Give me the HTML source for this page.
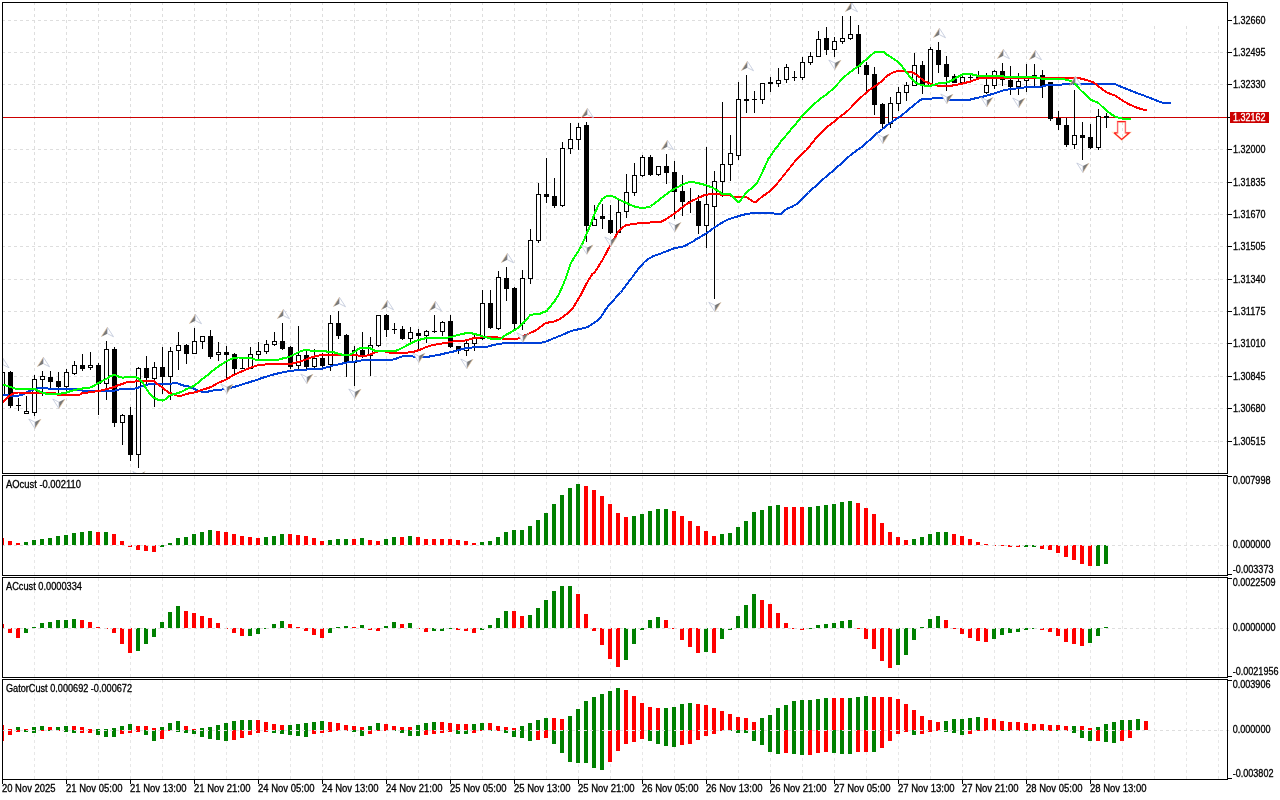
<!DOCTYPE html>
<html><head><meta charset="utf-8"><title>chart</title>
<style>html,body{margin:0;padding:0;background:#fff;width:1280px;height:800px;overflow:hidden}</style></head>
<body>
<svg width="1280" height="800" viewBox="0 0 1280 800" shape-rendering="crispEdges" style="position:absolute;left:0;top:0">
<rect x="0" y="0" width="1280" height="800" fill="#fff"/>
<defs><clipPath id="mc"><rect x="3" y="3" width="1224" height="470"/></clipPath></defs>
<path d="M34.5 2V474M66.5 2V474M98.5 2V474M130.5 2V474M162.5 2V474M194.5 2V474M226.5 2V474M258.5 2V474M290.5 2V474M322.5 2V474M354.5 2V474M386.5 2V474M418.5 2V474M450.5 2V474M482.5 2V474M514.5 2V474M546.5 2V474M578.5 2V474M610.5 2V474M642.5 2V474M674.5 2V474M706.5 2V474M738.5 2V474M770.5 2V474M802.5 2V474M834.5 2V474M866.5 2V474M898.5 2V474M930.5 2V474M962.5 2V474M994.5 2V474M1026.5 2V474M1058.5 2V474M1090.5 2V474M1122.5 2V474M1154.5 2V474M1186.5 2V474M1218.5 2V474" stroke="#dedede" stroke-width="1" stroke-dasharray="3 3" fill="none"/>
<path d="M34.5 476V779M66.5 476V779M98.5 476V779M130.5 476V779M162.5 476V779M194.5 476V779M226.5 476V779M258.5 476V779M290.5 476V779M322.5 476V779M354.5 476V779M386.5 476V779M418.5 476V779M450.5 476V779M482.5 476V779M514.5 476V779M546.5 476V779M578.5 476V779M610.5 476V779M642.5 476V779M674.5 476V779M706.5 476V779M738.5 476V779M770.5 476V779M802.5 476V779M834.5 476V779M866.5 476V779M898.5 476V779M930.5 476V779M962.5 476V779M994.5 476V779M1026.5 476V779M1058.5 476V779M1090.5 476V779M1122.5 476V779M1154.5 476V779M1186.5 476V779M1218.5 476V779" stroke="#e7e7e7" stroke-width="1" stroke-dasharray="3 3" fill="none"/>
<rect x="0" y="474" width="1280" height="1" fill="#fff"/><rect x="0" y="576" width="1280" height="1" fill="#fff"/><rect x="0" y="678" width="1280" height="1" fill="#fff"/>
<path d="M3 20.5H1227M3 52.5H1227M3 84.5H1227M3 117.5H1227M3 149.5H1227M3 182.5H1227M3 214.5H1227M3 246.5H1227M3 279.5H1227M3 311.5H1227M3 343.5H1227M3 376.5H1227M3 408.5H1227M3 441.5H1227" stroke="#dedede" stroke-width="1" stroke-dasharray="3 3" stroke-dashoffset="1" fill="none"/>
<rect x="1127" y="3" width="100" height="23" fill="#fff"/>
<rect x="3" y="117" width="1224" height="1" fill="#cc0000"/>
<path d="M10.5 371V408M18.5 398V411M26.5 396V414M34.5 375V416M42.5 371V396M50.5 371V389M58.5 372V394M66.5 369V392M74.5 361V375M82.5 354V371M90.5 352V370M98.5 363V415M106.5 341V400M114.5 347V427M122.5 414V445M130.5 407V461M138.5 367V468M146.5 356V384M154.5 362V407M162.5 347V394M170.5 347V400M178.5 332V370M186.5 344V364M194.5 328V354M202.5 336V349M210.5 330V359M218.5 342V361M226.5 346V379M234.5 353V374M242.5 358V369M250.5 347V369M258.5 342V359M266.5 340V354M274.5 332V346M282.5 323V350M290.5 346V369M298.5 326V369M306.5 351V369M314.5 349V369M322.5 353V368M330.5 315V371M338.5 311V339M346.5 334V377M354.5 346V386M362.5 332V358M370.5 337V376M378.5 315V347M386.5 314V337M394.5 323V334M402.5 326V340M410.5 327V342M418.5 329V350M426.5 330V343M434.5 315V333M442.5 321V336M450.5 315V348M458.5 346V354M466.5 339V356M474.5 335V351M482.5 290V340M490.5 290V329M498.5 271V330M506.5 267V301M514.5 287V329M522.5 270V330M530.5 229V284M538.5 183V243M546.5 158V203M554.5 178V208M562.5 142V207M570.5 123V154M578.5 123V150M586.5 122V242M594.5 205V226M602.5 204V229M610.5 205V234M618.5 200V233M626.5 174V218M634.5 163V196M642.5 155V177M650.5 155V176M658.5 166V176M666.5 154V184M674.5 161V219M682.5 175V216M690.5 188V213M698.5 195V234M706.5 147V248M714.5 171V299M722.5 102V197M730.5 135V181M738.5 82V160M746.5 75V113M754.5 91V113M762.5 83V104M770.5 77V92M778.5 68V87M786.5 64V83M794.5 71V81M802.5 57V80M810.5 52V65M818.5 31V57M826.5 27V55M834.5 37V57M842.5 16V44M850.5 16V40M858.5 25V74M866.5 62V92M874.5 67V115M882.5 103V128M890.5 97V128M898.5 87V111M906.5 82V101M914.5 53V86M922.5 61V94M930.5 47V86M938.5 42V73M946.5 56V91M954.5 74V83M962.5 76V83M970.5 75V81M978.5 71V79M986.5 73V94M994.5 70V89M1002.5 63V86M1010.5 66V95M1018.5 73V95M1026.5 64V92M1034.5 64V86M1042.5 70V98M1050.5 82V121M1058.5 111V130M1066.5 118V147M1074.5 90V149M1082.5 122V160M1090.5 124V149M1098.5 109V150M1106.5 113V128" stroke="#000" stroke-width="1" fill="none"/>
<path d="M8 372h5v34h-5zM16 405h5v1h-5zM48 377h5v5h-5zM56 381h5v6h-5zM80 365h5v4h-5zM96 365h5v19h-5zM112 349h5v74h-5zM128 415h5v40h-5zM144 368h5v10h-5zM160 367h5v10h-5zM184 345h5v9h-5zM208 336h5v21h-5zM224 352h5v3h-5zM232 354h5v15h-5zM240 368h5v1h-5zM280 341h5v8h-5zM288 347h5v20h-5zM304 355h5v12h-5zM320 358h5v8h-5zM336 323h5v13h-5zM344 335h5v27h-5zM360 350h5v6h-5zM384 315h5v15h-5zM392 329h5v1h-5zM400 329h5v10h-5zM416 333h5v3h-5zM432 331h5v1h-5zM448 321h5v26h-5zM456 346h5v4h-5zM488 303h5v25h-5zM504 278h5v11h-5zM512 288h5v36h-5zM544 194h5v3h-5zM552 196h5v10h-5zM584 125h5v101h-5zM600 216h5v3h-5zM608 220h5v13h-5zM648 157h5v18h-5zM664 166h5v7h-5zM672 172h5v20h-5zM680 191h5v11h-5zM688 201h5v1h-5zM696 201h5v25h-5zM744 99h5v2h-5zM752 99h5v1h-5zM768 82h5v2h-5zM792 77h5v1h-5zM824 38h5v12h-5zM856 34h5v33h-5zM864 65h5v10h-5zM872 74h5v31h-5zM880 104h5v20h-5zM920 65h5v21h-5zM936 50h5v15h-5zM944 64h5v13h-5zM952 76h5v7h-5zM968 77h5v1h-5zM976 77h5v1h-5zM1000 71h5v9h-5zM1008 80h5v7h-5zM1040 75h5v11h-5zM1048 82h5v37h-5zM1056 118h5v7h-5zM1064 125h5v20h-5zM1080 135h5v3h-5zM1088 137h5v11h-5zM1104 116h5v2h-5z" fill="#000"/>
<path d="M0.5 372.5H4.5V394.5H0.5zM24.5 411.5H28.5V413.5H24.5zM32.5 379.5H36.5V412.5H32.5zM40.5 376.5H44.5V379.5H40.5zM64.5 372.5H68.5V386.5H64.5zM72.5 365.5H76.5V373.5H72.5zM88.5 365.5H92.5V367.5H88.5zM104.5 349.5H108.5V383.5H104.5zM120.5 415.5H124.5V422.5H120.5zM136.5 368.5H140.5V454.5H136.5zM152.5 367.5H156.5V378.5H152.5zM168.5 351.5H172.5V376.5H168.5zM176.5 345.5H180.5V350.5H176.5zM192.5 341.5H196.5V353.5H192.5zM200.5 336.5H204.5V341.5H200.5zM216.5 352.5H220.5V354.5H216.5zM248.5 354.5H252.5V368.5H248.5zM256.5 351.5H260.5V354.5H256.5zM264.5 344.5H268.5V351.5H264.5zM272.5 341.5H276.5V344.5H272.5zM296.5 355.5H300.5V365.5H296.5zM312.5 358.5H316.5V366.5H312.5zM328.5 323.5H332.5V364.5H328.5zM352.5 350.5H356.5V362.5H352.5zM368.5 345.5H372.5V355.5H368.5zM376.5 315.5H380.5V345.5H376.5zM408.5 332.5H412.5V338.5H408.5zM424.5 331.5H428.5V335.5H424.5zM440.5 322.5H444.5V331.5H440.5zM464.5 343.5H468.5V350.5H464.5zM472.5 338.5H476.5V343.5H472.5zM480.5 303.5H484.5V338.5H480.5zM496.5 277.5H500.5V328.5H496.5zM520.5 278.5H524.5V323.5H520.5zM528.5 240.5H532.5V278.5H528.5zM536.5 194.5H540.5V240.5H536.5zM560.5 148.5H564.5V205.5H560.5zM568.5 139.5H572.5V148.5H568.5zM576.5 127.5H580.5V139.5H576.5zM592.5 219.5H596.5V225.5H592.5zM616.5 212.5H620.5V232.5H616.5zM624.5 192.5H628.5V211.5H624.5zM632.5 175.5H636.5V192.5H632.5zM640.5 157.5H644.5V175.5H640.5zM656.5 166.5H660.5V174.5H656.5zM704.5 204.5H708.5V225.5H704.5zM712.5 181.5H716.5V206.5H712.5zM720.5 164.5H724.5V181.5H720.5zM728.5 153.5H732.5V164.5H728.5zM736.5 99.5H740.5V155.5H736.5zM760.5 83.5H764.5V99.5H760.5zM776.5 80.5H780.5V83.5H776.5zM784.5 67.5H788.5V79.5H784.5zM800.5 62.5H804.5V77.5H800.5zM808.5 56.5H812.5V62.5H808.5zM816.5 39.5H820.5V56.5H816.5zM832.5 41.5H836.5V49.5H832.5zM840.5 38.5H844.5V41.5H840.5zM848.5 34.5H852.5V38.5H848.5zM888.5 103.5H892.5V123.5H888.5zM896.5 92.5H900.5V103.5H896.5zM904.5 85.5H908.5V92.5H904.5zM912.5 65.5H916.5V85.5H912.5zM928.5 49.5H932.5V85.5H928.5zM960.5 77.5H964.5V82.5H960.5zM984.5 85.5H988.5V92.5H984.5zM992.5 71.5H996.5V85.5H992.5zM1016.5 81.5H1020.5V86.5H1016.5zM1024.5 76.5H1028.5V80.5H1024.5zM1032.5 75.5H1036.5V77.5H1032.5zM1072.5 135.5H1076.5V144.5H1072.5zM1096.5 116.5H1100.5V147.5H1096.5z" fill="#fff" stroke="#000" stroke-width="1" clip-path="url(#mc)"/>
<polyline points="2.50,394.75 6.50,395.00 10.50,396.00 18.50,395.60 22.50,394.75 26.50,392.50 30.50,390.60 34.50,389.40 38.50,388.00 42.50,388.00 50.50,388.75 74.50,388.75 78.50,390.00 82.50,390.60 90.50,391.25 100.50,391.25 106.50,391.00 114.50,390.60 118.50,389.60 122.50,389.00 130.50,388.90 134.50,388.60 138.50,387.50 142.50,386.10 146.50,384.90 150.50,383.90 154.50,383.90 162.50,384.00 170.50,383.75 174.50,382.90 176.50,383.00 180.50,384.50 184.50,385.80 188.50,386.50 192.50,388.00 196.50,390.00 200.50,391.50 208.50,391.50 212.50,390.60 220.50,389.75 224.50,389.00 228.50,388.00 232.50,387.50 236.50,386.25 240.50,385.00 244.50,383.75 248.50,382.50 252.50,381.25 256.50,380.00 260.50,378.50 264.50,377.25 268.50,376.00 272.50,374.75 276.50,373.75 280.50,372.75 284.50,371.90 288.50,371.25 292.50,370.60 300.50,370.00 308.50,369.40 316.50,368.75 320.50,369.00 324.50,368.00 328.50,366.90 332.50,365.60 336.50,364.75 340.50,364.00 344.50,363.00 348.50,362.25 352.50,361.90 356.50,361.25 360.50,360.60 364.50,360.00 370.50,359.75 390.50,359.75 394.50,359.40 398.50,357.75 402.50,356.25 406.50,355.60 410.50,356.00 414.50,356.90 418.50,357.25 426.50,357.25 430.50,356.25 434.50,355.60 438.50,355.00 442.50,354.00 446.50,353.00 450.50,352.25 454.50,351.25 458.50,350.00 462.50,349.00 466.50,348.00 470.50,347.75 474.50,347.25 478.50,346.90 480.50,346.90 488.50,346.50 492.50,345.25 496.50,344.40 500.50,343.75 506.50,342.75 540.50,342.75 544.50,342.25 548.50,340.60 552.50,338.75 556.50,337.25 560.50,335.60 564.50,334.00 568.50,331.90 572.50,330.60 576.50,329.75 580.50,328.75 584.50,328.00 588.50,326.50 592.50,323.75 596.50,321.25 600.50,317.50 604.50,311.25 608.50,305.60 612.50,301.25 616.50,296.90 620.50,292.50 624.50,287.50 628.50,281.90 632.50,276.90 636.50,271.25 640.50,266.50 644.50,262.00 648.50,258.80 652.50,256.60 656.50,254.90 660.50,253.75 664.50,251.90 668.50,250.60 672.50,248.75 676.50,247.75 680.50,246.90 684.50,246.25 688.50,243.75 692.50,241.90 696.50,239.00 700.50,236.90 704.50,234.40 708.50,231.90 712.50,228.75 716.50,226.25 720.50,223.50 724.50,221.25 728.50,219.40 732.50,218.00 736.50,216.90 738.50,216.00 742.50,215.00 746.50,214.00 750.50,213.50 754.50,213.00 758.50,212.75 772.50,212.75 774.50,213.80 781.00,213.80 782.50,212.30 784.50,210.50 788.50,208.00 792.50,206.50 796.50,204.20 800.50,200.80 804.50,196.25 808.50,192.50 812.50,188.50 816.50,185.60 820.50,181.25 824.50,178.00 828.50,174.40 832.50,171.25 836.50,167.50 840.50,164.40 844.50,160.25 848.50,156.90 852.50,153.50 856.50,150.60 860.50,148.00 864.50,144.70 868.50,141.00 872.50,137.50 876.50,133.75 880.50,130.80 884.50,127.20 888.50,124.00 892.50,121.50 896.50,118.75 900.50,116.25 904.50,113.00 908.50,109.40 912.50,106.25 916.50,103.00 920.50,100.00 922.50,99.00 930.50,98.75 934.50,98.00 940.50,97.75 944.50,97.75 948.50,99.75 952.50,100.00 968.50,100.00 972.50,99.00 976.50,98.00 980.50,97.25 984.50,96.25 988.50,95.00 992.50,94.00 996.50,92.75 1000.50,91.25 1004.50,90.10 1008.50,89.40 1012.50,89.00 1016.50,88.50 1024.50,87.50 1032.50,87.25 1040.50,86.90 1044.50,85.60 1048.50,85.25 1052.50,85.25 1056.50,84.75 1064.50,84.40 1068.50,83.75 1072.50,83.50 1104.50,83.50 1108.50,84.00 1114.50,84.00 1118.50,85.60 1122.50,87.25 1126.50,88.90 1130.50,90.50 1134.50,92.00 1138.50,93.70 1142.50,95.00 1146.50,96.60 1150.50,98.00 1154.50,99.70 1158.50,101.20 1162.50,102.75 1171.00,102.75" fill="none" stroke="#0040d8" stroke-width="2" stroke-linejoin="round" clip-path="url(#mc)"/>
<polyline points="2.50,402.50 6.50,398.75 10.50,395.00 14.50,393.00 18.50,392.50 54.50,392.50 58.50,395.00 62.50,395.25 78.50,395.25 82.50,393.00 90.50,392.30 98.50,391.00 106.50,389.20 110.50,388.00 114.50,387.00 118.50,385.10 122.50,383.90 126.50,382.40 130.50,381.75 138.50,381.30 154.50,381.20 158.50,385.00 160.50,386.00 164.50,389.40 168.50,392.50 172.50,393.75 176.50,395.50 180.50,396.00 184.50,394.75 188.50,393.50 192.50,392.75 196.50,391.90 200.50,390.25 204.50,389.00 208.50,388.00 212.50,386.25 216.50,383.75 220.50,381.90 224.50,380.25 228.50,378.00 232.50,375.60 236.50,373.75 240.50,371.90 244.50,370.25 248.50,368.50 252.50,366.90 256.50,365.60 260.50,364.75 266.50,364.40 270.50,364.00 290.50,364.00 294.50,363.00 298.50,361.90 302.50,360.60 306.50,359.40 310.50,357.75 314.50,356.50 318.50,355.60 320.50,354.75 330.50,355.00 354.50,355.00 358.50,355.60 362.50,356.00 366.50,355.60 370.50,354.40 374.50,352.50 378.50,351.25 382.50,351.00 386.50,351.90 390.50,352.75 394.50,353.00 402.50,353.00 410.50,352.25 414.50,351.50 418.50,350.25 422.50,348.75 426.50,346.90 430.50,345.60 434.50,344.75 438.50,344.00 442.50,343.50 446.50,342.75 450.50,341.90 454.50,341.25 458.50,341.00 462.50,341.00 466.50,340.25 470.50,339.00 474.50,338.00 478.50,337.75 480.50,337.50 484.50,336.50 492.50,336.50 496.50,337.25 500.50,338.00 504.50,339.00 516.50,339.00 520.50,337.50 524.50,335.60 528.50,333.75 532.50,331.90 536.50,330.00 540.50,326.90 544.50,323.75 548.50,322.50 552.50,321.90 556.50,320.60 560.50,318.75 564.50,315.60 568.50,312.50 572.50,308.75 576.50,301.90 580.50,295.60 584.50,287.50 588.50,280.00 592.50,273.75 594.50,272.50 598.50,266.25 602.50,260.00 606.50,252.50 610.50,245.00 614.50,238.00 618.50,231.25 622.50,227.50 626.50,225.00 630.50,224.40 634.50,223.75 642.50,223.00 650.50,222.50 660.50,221.90 664.50,220.00 668.50,217.50 672.50,215.00 676.50,211.90 680.50,208.75 684.50,205.60 688.50,203.00 692.50,200.60 696.50,198.75 700.50,196.90 704.50,195.00 708.50,194.40 718.50,194.40 722.50,194.75 726.50,195.00 730.50,195.60 734.50,196.90 738.50,197.25 746.50,197.25 748.50,198.50 752.50,201.25 754.50,202.25 756.50,201.50 760.50,198.00 764.50,195.00 768.50,192.25 772.50,188.75 776.50,184.40 780.50,179.40 784.50,174.40 788.50,169.40 792.50,164.40 796.50,159.40 800.50,155.60 806.50,150.00 810.50,145.00 814.50,140.00 818.50,135.60 822.50,131.25 826.50,127.50 830.50,124.40 834.50,121.25 838.50,118.00 842.50,115.00 846.50,111.90 850.50,108.00 854.50,103.75 858.50,99.70 862.50,96.00 866.50,92.20 870.50,89.20 874.50,86.50 878.50,83.75 882.50,80.60 884.50,78.00 888.50,75.00 892.50,72.80 896.50,71.20 900.50,71.00 904.50,71.25 908.50,71.80 912.50,72.50 916.50,74.75 920.50,78.00 924.50,81.25 928.50,83.00 932.50,84.30 936.50,85.40 940.50,86.00 950.50,86.00 954.50,85.00 958.50,84.40 962.50,83.50 966.50,82.50 970.50,81.50 974.50,80.00 978.50,78.50 982.50,78.00 1000.50,77.70 1030.50,77.75 1040.50,77.50 1074.50,77.50 1078.50,78.00 1082.50,79.00 1086.50,80.00 1090.50,81.25 1094.50,83.00 1098.50,86.25 1102.50,89.60 1106.50,92.30 1110.50,94.00 1114.50,95.10 1118.50,97.70 1122.50,100.60 1126.50,102.90 1130.50,104.90 1134.50,106.70 1138.50,108.20 1142.50,109.40 1147.00,110.00" fill="none" stroke="#ff0000" stroke-width="2" stroke-linejoin="round" clip-path="url(#mc)"/>
<polyline points="2.50,384.40 10.50,387.00 14.50,388.50 18.50,388.75 34.50,389.00 38.50,391.00 42.50,392.75 46.50,393.75 58.50,394.00 66.50,392.50 74.50,390.00 82.50,388.50 90.50,387.50 94.50,385.60 98.50,383.00 106.50,378.75 110.50,376.00 114.50,375.00 118.50,376.50 122.50,377.75 126.50,377.00 130.50,376.90 134.50,377.00 138.50,378.00 142.50,382.50 146.50,389.00 150.50,395.00 154.50,398.00 158.50,400.00 162.50,400.60 166.50,398.75 170.50,395.00 174.50,394.00 178.50,393.00 182.50,391.25 186.50,389.00 190.50,387.50 194.50,385.50 198.50,382.50 202.50,378.75 206.50,376.00 210.50,372.50 214.50,369.40 218.50,366.25 222.50,363.75 226.50,361.25 230.50,359.40 234.50,357.75 238.50,357.50 248.50,357.50 250.50,358.00 254.50,359.40 258.50,360.25 274.50,360.25 278.50,359.75 282.50,358.50 286.50,357.75 290.50,356.25 294.50,354.40 298.50,352.25 302.50,350.60 306.50,350.00 310.50,350.60 314.50,351.25 318.50,351.00 322.50,351.00 326.50,351.50 330.50,352.25 334.50,352.50 338.50,353.75 342.50,354.75 346.50,355.00 350.50,354.40 354.50,351.90 358.50,348.75 362.50,347.75 366.50,347.75 370.50,348.50 374.50,350.60 378.50,351.50 386.50,351.25 394.50,351.25 398.50,349.75 402.50,347.75 406.50,345.60 410.50,343.50 414.50,341.50 418.50,340.00 422.50,339.00 426.50,338.00 430.50,337.75 446.50,337.75 450.50,337.25 454.50,336.00 458.50,334.75 462.50,334.00 466.50,333.00 470.50,333.00 474.50,334.00 478.50,335.00 480.50,335.60 484.50,336.90 488.50,338.00 492.50,339.00 500.50,339.00 502.50,337.50 506.50,334.40 510.50,332.50 514.50,330.00 518.50,327.50 522.50,323.75 526.50,319.40 530.50,314.75 534.50,314.40 538.50,314.40 542.50,312.50 546.50,311.25 550.50,306.25 554.50,301.25 558.50,295.00 562.50,286.25 566.50,276.25 570.50,263.75 574.50,257.00 578.50,251.00 582.50,243.75 586.50,233.75 590.50,225.00 594.50,213.75 598.50,205.00 602.50,198.75 606.50,196.25 610.50,195.60 614.50,196.90 618.50,199.40 622.50,201.25 626.50,203.00 630.50,205.00 634.50,206.50 638.50,207.50 642.50,207.75 646.50,207.50 650.50,206.50 652.50,205.00 656.50,201.90 660.50,198.75 664.50,195.60 668.50,192.50 672.50,190.00 676.50,187.75 680.50,185.60 684.50,183.75 688.50,182.25 692.50,181.90 696.50,182.75 700.50,183.75 704.50,184.75 708.50,186.00 712.50,187.75 716.50,190.00 720.50,192.50 722.50,194.00 730.50,194.00 732.50,196.25 736.50,200.25 738.50,202.25 740.50,200.25 744.50,195.00 748.50,190.60 752.50,187.50 756.50,183.75 760.50,176.25 764.50,167.50 768.50,158.75 772.50,153.00 774.50,150.00 778.50,145.00 782.50,139.40 786.50,135.00 790.50,130.00 794.50,125.60 798.50,120.60 802.50,115.60 806.50,111.25 810.50,107.50 814.50,103.75 818.50,100.30 822.50,97.20 826.50,94.50 830.50,91.00 834.50,87.50 838.50,83.00 842.50,78.70 846.50,75.00 850.50,71.90 854.50,68.75 858.50,66.25 862.50,62.50 866.50,59.40 870.50,55.60 874.50,52.40 878.50,51.50 882.50,51.50 884.50,52.50 886.50,54.40 890.50,56.90 894.50,59.40 898.50,62.50 902.50,66.90 906.50,72.50 910.50,77.50 914.50,81.90 918.50,84.00 922.50,85.25 926.50,86.00 930.50,85.80 934.50,84.70 938.50,83.40 942.50,82.90 946.50,82.40 950.50,81.25 954.50,78.75 958.50,76.40 962.50,74.40 966.50,74.00 970.50,74.00 974.50,75.00 978.50,76.00 982.50,76.25 1000.50,76.25 1008.50,76.90 1032.50,76.90 1036.50,77.50 1040.50,78.50 1044.50,79.00 1060.50,79.00 1064.50,79.40 1068.50,80.25 1072.50,81.90 1076.50,85.60 1080.50,90.00 1084.50,93.75 1088.50,97.50 1090.50,99.75 1094.50,101.25 1098.50,103.00 1102.50,106.90 1106.50,110.60 1110.50,113.75 1114.50,116.25 1118.50,117.60 1122.50,118.75 1126.50,119.00 1131.00,119.00" fill="none" stroke="#00ff00" stroke-width="2" stroke-linejoin="round" clip-path="url(#mc)"/>
<g shape-rendering="geometricPrecision" clip-path="url(#mc)">
<path d="M2.9 358.25L-3.1999999999999997 367.75L2.9 364.65z" fill="#787878"/><path d="M2.9 358.25L9.0 367.75L2.9 364.65z" fill="#fff" stroke="#b9c1d6" stroke-width="0.75"/><path d="M2.9 358.25L-3.1999999999999997 367.75" stroke="#e9c9a2" stroke-width="0.7" fill="none"/>
<path d="M43.4 357.25L37.3 366.75L43.4 363.65z" fill="#787878"/><path d="M43.4 357.25L49.5 366.75L43.4 363.65z" fill="#fff" stroke="#b9c1d6" stroke-width="0.75"/><path d="M43.4 357.25L37.3 366.75" stroke="#e9c9a2" stroke-width="0.7" fill="none"/>
<path d="M107.4 327.25L101.30000000000001 336.75L107.4 333.65z" fill="#787878"/><path d="M107.4 327.25L113.5 336.75L107.4 333.65z" fill="#fff" stroke="#b9c1d6" stroke-width="0.75"/><path d="M107.4 327.25L101.30000000000001 336.75" stroke="#e9c9a2" stroke-width="0.7" fill="none"/>
<path d="M195.4 314.25L189.3 323.75L195.4 320.65z" fill="#787878"/><path d="M195.4 314.25L201.5 323.75L195.4 320.65z" fill="#fff" stroke="#b9c1d6" stroke-width="0.75"/><path d="M195.4 314.25L189.3 323.75" stroke="#e9c9a2" stroke-width="0.7" fill="none"/>
<path d="M283.4 309.25L277.29999999999995 318.75L283.4 315.65z" fill="#787878"/><path d="M283.4 309.25L289.5 318.75L283.4 315.65z" fill="#fff" stroke="#b9c1d6" stroke-width="0.75"/><path d="M283.4 309.25L277.29999999999995 318.75" stroke="#e9c9a2" stroke-width="0.7" fill="none"/>
<path d="M339.4 297.25L333.29999999999995 306.75L339.4 303.65z" fill="#787878"/><path d="M339.4 297.25L345.5 306.75L339.4 303.65z" fill="#fff" stroke="#b9c1d6" stroke-width="0.75"/><path d="M339.4 297.25L333.29999999999995 306.75" stroke="#e9c9a2" stroke-width="0.7" fill="none"/>
<path d="M387.4 300.25L381.29999999999995 309.75L387.4 306.65z" fill="#787878"/><path d="M387.4 300.25L393.5 309.75L387.4 306.65z" fill="#fff" stroke="#b9c1d6" stroke-width="0.75"/><path d="M387.4 300.25L381.29999999999995 309.75" stroke="#e9c9a2" stroke-width="0.7" fill="none"/>
<path d="M435.4 301.25L429.29999999999995 310.75L435.4 307.65z" fill="#787878"/><path d="M435.4 301.25L441.5 310.75L435.4 307.65z" fill="#fff" stroke="#b9c1d6" stroke-width="0.75"/><path d="M435.4 301.25L429.29999999999995 310.75" stroke="#e9c9a2" stroke-width="0.7" fill="none"/>
<path d="M507.4 253.25L501.29999999999995 262.75L507.4 259.65z" fill="#787878"/><path d="M507.4 253.25L513.5 262.75L507.4 259.65z" fill="#fff" stroke="#b9c1d6" stroke-width="0.75"/><path d="M507.4 253.25L501.29999999999995 262.75" stroke="#e9c9a2" stroke-width="0.7" fill="none"/>
<path d="M587.4 108.25L581.3 117.75L587.4 114.65z" fill="#787878"/><path d="M587.4 108.25L593.5 117.75L587.4 114.65z" fill="#fff" stroke="#b9c1d6" stroke-width="0.75"/><path d="M587.4 108.25L581.3 117.75" stroke="#e9c9a2" stroke-width="0.7" fill="none"/>
<path d="M667.4 140.25L661.3 149.75L667.4 146.65z" fill="#787878"/><path d="M667.4 140.25L673.5 149.75L667.4 146.65z" fill="#fff" stroke="#b9c1d6" stroke-width="0.75"/><path d="M667.4 140.25L661.3 149.75" stroke="#e9c9a2" stroke-width="0.7" fill="none"/>
<path d="M747.4 61.25L741.3 70.75L747.4 67.65z" fill="#787878"/><path d="M747.4 61.25L753.5 70.75L747.4 67.65z" fill="#fff" stroke="#b9c1d6" stroke-width="0.75"/><path d="M747.4 61.25L741.3 70.75" stroke="#e9c9a2" stroke-width="0.7" fill="none"/>
<path d="M851.4 2.25L845.3 11.75L851.4 8.65z" fill="#787878"/><path d="M851.4 2.25L857.5 11.75L851.4 8.65z" fill="#fff" stroke="#b9c1d6" stroke-width="0.75"/><path d="M851.4 2.25L845.3 11.75" stroke="#e9c9a2" stroke-width="0.7" fill="none"/>
<path d="M939.4 28.25L933.3 37.75L939.4 34.65z" fill="#787878"/><path d="M939.4 28.25L945.5 37.75L939.4 34.65z" fill="#fff" stroke="#b9c1d6" stroke-width="0.75"/><path d="M939.4 28.25L933.3 37.75" stroke="#e9c9a2" stroke-width="0.7" fill="none"/>
<path d="M1003.4 49.25L997.3 58.75L1003.4 55.65z" fill="#787878"/><path d="M1003.4 49.25L1009.5 58.75L1003.4 55.65z" fill="#fff" stroke="#b9c1d6" stroke-width="0.75"/><path d="M1003.4 49.25L997.3 58.75" stroke="#e9c9a2" stroke-width="0.7" fill="none"/>
<path d="M1035.4 50.25L1029.3000000000002 59.75L1035.4 56.65z" fill="#787878"/><path d="M1035.4 50.25L1041.5 59.75L1035.4 56.65z" fill="#fff" stroke="#b9c1d6" stroke-width="0.75"/><path d="M1035.4 50.25L1029.3000000000002 59.75" stroke="#e9c9a2" stroke-width="0.7" fill="none"/>
<path d="M1075.4 76.25L1069.3000000000002 85.75L1075.4 82.65z" fill="#787878"/><path d="M1075.4 76.25L1081.5 85.75L1075.4 82.65z" fill="#fff" stroke="#b9c1d6" stroke-width="0.75"/><path d="M1075.4 76.25L1069.3000000000002 85.75" stroke="#e9c9a2" stroke-width="0.7" fill="none"/>
<path d="M34.9 428.5L41.0 419L34.9 422.1z" fill="#787878"/><path d="M34.9 428.5L28.799999999999997 419L34.9 422.1z" fill="#fff" stroke="#b9c1d6" stroke-width="0.75"/><path d="M34.9 428.5L41.0 419" stroke="#e9c9a2" stroke-width="0.7" fill="none"/>
<path d="M58.9 408.5L65.0 399L58.9 402.1z" fill="#787878"/><path d="M58.9 408.5L52.8 399L58.9 402.1z" fill="#fff" stroke="#b9c1d6" stroke-width="0.75"/><path d="M58.9 408.5L65.0 399" stroke="#e9c9a2" stroke-width="0.7" fill="none"/>
<path d="M138.9 481.0L145.0 471.5L138.9 474.6z" fill="#787878"/><path d="M138.9 481.0L132.8 471.5L138.9 474.6z" fill="#fff" stroke="#b9c1d6" stroke-width="0.75"/><path d="M138.9 481.0L145.0 471.5" stroke="#e9c9a2" stroke-width="0.7" fill="none"/>
<path d="M226.9 393.5L233.0 384L226.9 387.1z" fill="#787878"/><path d="M226.9 393.5L220.8 384L226.9 387.1z" fill="#fff" stroke="#b9c1d6" stroke-width="0.75"/><path d="M226.9 393.5L233.0 384" stroke="#e9c9a2" stroke-width="0.7" fill="none"/>
<path d="M306.9 383.5L313.0 374L306.9 377.1z" fill="#787878"/><path d="M306.9 383.5L300.79999999999995 374L306.9 377.1z" fill="#fff" stroke="#b9c1d6" stroke-width="0.75"/><path d="M306.9 383.5L313.0 374" stroke="#e9c9a2" stroke-width="0.7" fill="none"/>
<path d="M354.9 398.5L361.0 389L354.9 392.1z" fill="#787878"/><path d="M354.9 398.5L348.79999999999995 389L354.9 392.1z" fill="#fff" stroke="#b9c1d6" stroke-width="0.75"/><path d="M354.9 398.5L361.0 389" stroke="#e9c9a2" stroke-width="0.7" fill="none"/>
<path d="M418.9 362.5L425.0 353L418.9 356.1z" fill="#787878"/><path d="M418.9 362.5L412.79999999999995 353L418.9 356.1z" fill="#fff" stroke="#b9c1d6" stroke-width="0.75"/><path d="M418.9 362.5L425.0 353" stroke="#e9c9a2" stroke-width="0.7" fill="none"/>
<path d="M466.9 368.5L473.0 359L466.9 362.1z" fill="#787878"/><path d="M466.9 368.5L460.79999999999995 359L466.9 362.1z" fill="#fff" stroke="#b9c1d6" stroke-width="0.75"/><path d="M466.9 368.5L473.0 359" stroke="#e9c9a2" stroke-width="0.7" fill="none"/>
<path d="M522.9 342.25L529.0 332.75L522.9 335.85z" fill="#787878"/><path d="M522.9 342.25L516.8 332.75L522.9 335.85z" fill="#fff" stroke="#b9c1d6" stroke-width="0.75"/><path d="M522.9 342.25L529.0 332.75" stroke="#e9c9a2" stroke-width="0.7" fill="none"/>
<path d="M586.9 254.25L593.0 244.75L586.9 247.85z" fill="#787878"/><path d="M586.9 254.25L580.8 244.75L586.9 247.85z" fill="#fff" stroke="#b9c1d6" stroke-width="0.75"/><path d="M586.9 254.25L593.0 244.75" stroke="#e9c9a2" stroke-width="0.7" fill="none"/>
<path d="M610.9 246.5L617.0 237L610.9 240.1z" fill="#787878"/><path d="M610.9 246.5L604.8 237L610.9 240.1z" fill="#fff" stroke="#b9c1d6" stroke-width="0.75"/><path d="M610.9 246.5L617.0 237" stroke="#e9c9a2" stroke-width="0.7" fill="none"/>
<path d="M674.9 231.75L681.0 222.25L674.9 225.35z" fill="#787878"/><path d="M674.9 231.75L668.8 222.25L674.9 225.35z" fill="#fff" stroke="#b9c1d6" stroke-width="0.75"/><path d="M674.9 231.75L681.0 222.25" stroke="#e9c9a2" stroke-width="0.7" fill="none"/>
<path d="M714.9 311.75L721.0 302.25L714.9 305.35z" fill="#787878"/><path d="M714.9 311.75L708.8 302.25L714.9 305.35z" fill="#fff" stroke="#b9c1d6" stroke-width="0.75"/><path d="M714.9 311.75L721.0 302.25" stroke="#e9c9a2" stroke-width="0.7" fill="none"/>
<path d="M834.9 69.5L841.0 60L834.9 63.1z" fill="#787878"/><path d="M834.9 69.5L828.8 60L834.9 63.1z" fill="#fff" stroke="#b9c1d6" stroke-width="0.75"/><path d="M834.9 69.5L841.0 60" stroke="#e9c9a2" stroke-width="0.7" fill="none"/>
<path d="M882.9 143.5L889.0 134L882.9 137.1z" fill="#787878"/><path d="M882.9 143.5L876.8 134L882.9 137.1z" fill="#fff" stroke="#b9c1d6" stroke-width="0.75"/><path d="M882.9 143.5L889.0 134" stroke="#e9c9a2" stroke-width="0.7" fill="none"/>
<path d="M946.9 103.5L953.0 94L946.9 97.1z" fill="#787878"/><path d="M946.9 103.5L940.8 94L946.9 97.1z" fill="#fff" stroke="#b9c1d6" stroke-width="0.75"/><path d="M946.9 103.5L953.0 94" stroke="#e9c9a2" stroke-width="0.7" fill="none"/>
<path d="M986.9 106.75L993.0 97.25L986.9 100.35z" fill="#787878"/><path d="M986.9 106.75L980.8 97.25L986.9 100.35z" fill="#fff" stroke="#b9c1d6" stroke-width="0.75"/><path d="M986.9 106.75L993.0 97.25" stroke="#e9c9a2" stroke-width="0.7" fill="none"/>
<path d="M1018.9 107.5L1025.0 98L1018.9 101.1z" fill="#787878"/><path d="M1018.9 107.5L1012.8 98L1018.9 101.1z" fill="#fff" stroke="#b9c1d6" stroke-width="0.75"/><path d="M1018.9 107.5L1025.0 98" stroke="#e9c9a2" stroke-width="0.7" fill="none"/>
<path d="M1082.9 172.5L1089.0 163L1082.9 166.1z" fill="#787878"/><path d="M1082.9 172.5L1076.8000000000002 163L1082.9 166.1z" fill="#fff" stroke="#b9c1d6" stroke-width="0.75"/><path d="M1082.9 172.5L1089.0 163" stroke="#e9c9a2" stroke-width="0.7" fill="none"/>
</g>
<g shape-rendering="geometricPrecision">
<path d="M1114.1 132.9H1117.6V121.6H1125.4V132.9H1129.3L1121.7 139.5z" fill="none" stroke="#ffc890" stroke-width="2.2" stroke-opacity="0.55" stroke-linejoin="miter"/>
<path d="M1114.1 132.9H1117.6M1125.4 132.9H1129.3L1121.7 139.5L1114.1 132.9M1117.1 121.6H1125.9" fill="none" stroke="#ff1a1a" stroke-width="1.25" stroke-linejoin="miter"/>
<path d="M1117.6 121.6V133M1125.4 121.6V133" fill="none" stroke="#ff5c70" stroke-width="1.1"/>
</g>
<path d="M24 542h4v3h-4zM32 540h4v5h-4zM40 539h4v6h-4zM48 538h4v7h-4zM56 536h4v9h-4zM64 535h4v10h-4zM72 533h4v12h-4zM80 532h4v13h-4zM88 531h4v14h-4zM104 532h4v13h-4zM160 545h4v2h-4zM168 543h4v2h-4zM176 538h4v7h-4zM184 537h4v8h-4zM192 534h4v11h-4zM200 532h4v13h-4zM208 530h4v15h-4zM264 537h4v8h-4zM272 536h4v9h-4zM280 534h4v11h-4zM328 540h4v5h-4zM336 539h4v6h-4zM344 539h4v6h-4zM360 538h4v7h-4zM384 539h4v6h-4zM392 537h4v8h-4zM408 536h4v9h-4zM480 542h4v3h-4zM488 541h4v4h-4zM496 537h4v8h-4zM504 532h4v13h-4zM512 530h4v15h-4zM520 530h4v15h-4zM528 526h4v19h-4zM536 520h4v25h-4zM544 513h4v32h-4zM552 504h4v41h-4zM560 495h4v50h-4zM568 488h4v57h-4zM576 484h4v61h-4zM632 516h4v29h-4zM640 514h4v31h-4zM648 511h4v34h-4zM656 509h4v36h-4zM664 509h4v36h-4zM720 534h4v11h-4zM728 533h4v12h-4zM736 527h4v18h-4zM744 521h4v24h-4zM752 512h4v33h-4zM760 510h4v35h-4zM768 506h4v39h-4zM776 505h4v40h-4zM808 507h4v38h-4zM816 506h4v39h-4zM824 505h4v40h-4zM832 504h4v41h-4zM840 502h4v43h-4zM848 501h4v44h-4zM912 539h4v6h-4zM920 537h4v8h-4zM928 534h4v11h-4zM936 532h4v13h-4zM944 532h4v13h-4zM1024 545h4v2h-4zM1032 545h4v2h-4zM1096 545h4v21h-4zM1104 545h4v19h-4z" fill="#008000"/>
<path d="M3 538h1v7h-1zM8 541h4v4h-4zM16 543h4v2h-4zM96 532h4v13h-4zM112 534h4v11h-4zM120 541h4v4h-4zM128 545h4v2h-4zM136 545h4v5h-4zM144 545h4v6h-4zM152 545h4v7h-4zM216 531h4v14h-4zM224 532h4v13h-4zM232 534h4v11h-4zM240 536h4v9h-4zM248 537h4v8h-4zM256 538h4v7h-4zM288 534h4v11h-4zM296 535h4v10h-4zM304 536h4v9h-4zM312 538h4v7h-4zM320 541h4v4h-4zM352 539h4v6h-4zM368 540h4v5h-4zM376 541h4v4h-4zM400 537h4v8h-4zM416 537h4v8h-4zM424 539h4v6h-4zM432 539h4v6h-4zM440 539h4v6h-4zM448 539h4v6h-4zM456 540h4v5h-4zM464 541h4v4h-4zM472 543h4v2h-4zM584 486h4v59h-4zM592 490h4v55h-4zM600 496h4v49h-4zM608 504h4v41h-4zM616 513h4v32h-4zM624 517h4v28h-4zM672 511h4v34h-4zM680 516h4v29h-4zM688 521h4v24h-4zM696 526h4v19h-4zM704 531h4v14h-4zM712 536h4v9h-4zM784 507h4v38h-4zM792 507h4v38h-4zM800 507h4v38h-4zM856 503h4v42h-4zM864 508h4v37h-4zM872 514h4v31h-4zM880 523h4v22h-4zM888 532h4v13h-4zM896 537h4v8h-4zM904 540h4v5h-4zM952 534h4v11h-4zM960 536h4v9h-4zM968 539h4v6h-4zM976 542h4v3h-4zM984 544h4v1h-4zM992 545h4v1h-4zM1000 545h4v1h-4zM1008 545h4v2h-4zM1016 545h4v2h-4zM1040 545h4v4h-4zM1048 545h4v5h-4zM1056 545h4v8h-4zM1064 545h4v12h-4zM1072 545h4v15h-4zM1080 545h4v19h-4zM1088 545h4v21h-4z" fill="#ff0000"/>
<path d="M24 628h4v5h-4zM32 627h4v1h-4zM40 623h4v5h-4zM48 622h4v6h-4zM56 620h4v8h-4zM64 620h4v8h-4zM72 619h4v9h-4zM136 628h4v23h-4zM144 628h4v16h-4zM152 628h4v9h-4zM160 622h4v6h-4zM168 612h4v16h-4zM176 606h4v22h-4zM248 628h4v8h-4zM256 628h4v6h-4zM264 628h4v1h-4zM272 624h4v4h-4zM280 621h4v7h-4zM328 628h4v5h-4zM336 627h4v1h-4zM344 626h4v2h-4zM360 625h4v3h-4zM384 626h4v2h-4zM392 622h4v6h-4zM408 623h4v5h-4zM432 628h4v3h-4zM440 628h4v3h-4zM448 628h4v1h-4zM480 628h4v2h-4zM488 625h4v3h-4zM496 618h4v10h-4zM504 611h4v17h-4zM528 615h4v13h-4zM536 608h4v20h-4zM544 600h4v28h-4zM552 591h4v37h-4zM560 586h4v42h-4zM568 586h4v42h-4zM624 628h4v32h-4zM632 628h4v16h-4zM640 628h4v2h-4zM648 620h4v8h-4zM656 617h4v11h-4zM704 628h4v24h-4zM720 628h4v11h-4zM728 628h4v2h-4zM736 616h4v12h-4zM744 605h4v23h-4zM752 594h4v34h-4zM808 628h4v1h-4zM816 625h4v3h-4zM824 624h4v4h-4zM832 623h4v5h-4zM840 621h4v7h-4zM848 620h4v8h-4zM896 628h4v37h-4zM904 628h4v27h-4zM912 628h4v12h-4zM920 627h4v1h-4zM928 619h4v9h-4zM936 616h4v12h-4zM992 628h4v11h-4zM1000 628h4v7h-4zM1008 628h4v5h-4zM1016 628h4v4h-4zM1024 628h4v2h-4zM1032 628h4v1h-4zM1088 628h4v15h-4zM1096 628h4v8h-4zM1104 627h4v1h-4z" fill="#008000"/>
<path d="M3 624h1v4h-1zM8 628h4v5h-4zM16 628h4v10h-4zM80 620h4v8h-4zM88 622h4v6h-4zM96 627h4v1h-4zM104 628h4v1h-4zM112 628h4v5h-4zM120 628h4v16h-4zM128 628h4v25h-4zM184 611h4v17h-4zM192 613h4v15h-4zM200 616h4v12h-4zM208 618h4v10h-4zM216 623h4v5h-4zM224 628h4v1h-4zM232 628h4v5h-4zM240 628h4v8h-4zM288 624h4v4h-4zM296 627h4v1h-4zM304 628h4v3h-4zM312 628h4v7h-4zM320 628h4v10h-4zM352 627h4v1h-4zM368 628h4v2h-4zM376 628h4v3h-4zM400 624h4v4h-4zM416 628h4v1h-4zM424 628h4v4h-4zM456 628h4v2h-4zM464 628h4v3h-4zM472 628h4v5h-4zM512 611h4v17h-4zM520 616h4v12h-4zM576 594h4v34h-4zM584 614h4v14h-4zM592 628h4v3h-4zM600 628h4v17h-4zM608 628h4v31h-4zM616 628h4v39h-4zM664 620h4v8h-4zM672 628h4v1h-4zM680 628h4v12h-4zM688 628h4v19h-4zM696 628h4v25h-4zM712 628h4v25h-4zM760 600h4v28h-4zM768 604h4v24h-4zM776 613h4v15h-4zM784 623h4v5h-4zM792 628h4v1h-4zM800 628h4v2h-4zM856 628h4v1h-4zM864 628h4v11h-4zM872 628h4v21h-4zM880 628h4v33h-4zM888 628h4v40h-4zM944 620h4v8h-4zM952 628h4v1h-4zM960 628h4v6h-4zM968 628h4v10h-4zM976 628h4v13h-4zM984 628h4v14h-4zM1040 628h4v2h-4zM1048 628h4v4h-4zM1056 628h4v8h-4zM1064 628h4v14h-4zM1072 628h4v16h-4zM1080 628h4v18h-4z" fill="#ff0000"/>
<path d="M16 727h4v3h-4zM24 730h4v2h-4zM32 727h4v3h-4zM32 730h4v3h-4zM40 726h4v4h-4zM48 730h4v1h-4zM56 727h4v3h-4zM64 726h4v4h-4zM64 730h4v2h-4zM72 730h4v3h-4zM96 729h4v1h-4zM96 730h4v5h-4zM104 729h4v1h-4zM104 730h4v7h-4zM112 728h4v2h-4zM112 730h4v7h-4zM120 726h4v4h-4zM128 724h4v6h-4zM144 730h4v5h-4zM152 730h4v11h-4zM160 727h4v3h-4zM168 723h4v7h-4zM176 721h4v9h-4zM176 730h4v2h-4zM184 730h4v3h-4zM192 730h4v4h-4zM200 728h4v2h-4zM200 730h4v7h-4zM208 727h4v3h-4zM208 730h4v9h-4zM216 725h4v5h-4zM216 730h4v10h-4zM224 723h4v7h-4zM224 730h4v11h-4zM232 721h4v9h-4zM240 720h4v10h-4zM248 720h4v10h-4zM272 730h4v3h-4zM280 730h4v4h-4zM288 725h4v5h-4zM288 730h4v5h-4zM296 724h4v6h-4zM296 730h4v6h-4zM304 723h4v7h-4zM304 730h4v7h-4zM312 722h4v8h-4zM320 721h4v9h-4zM352 730h4v2h-4zM360 730h4v6h-4zM368 726h4v4h-4zM376 723h4v7h-4zM392 730h4v1h-4zM400 730h4v3h-4zM408 730h4v6h-4zM416 725h4v5h-4zM416 730h4v6h-4zM424 723h4v7h-4zM432 722h4v8h-4zM456 730h4v4h-4zM464 730h4v4h-4zM472 724h4v6h-4zM480 723h4v7h-4zM488 730h4v1h-4zM504 730h4v3h-4zM512 730h4v7h-4zM520 726h4v4h-4zM520 730h4v8h-4zM528 723h4v7h-4zM528 730h4v11h-4zM536 720h4v10h-4zM544 718h4v12h-4zM552 730h4v14h-4zM560 730h4v23h-4zM568 716h4v14h-4zM568 730h4v32h-4zM576 709h4v21h-4zM576 730h4v33h-4zM584 701h4v29h-4zM584 730h4v33h-4zM592 697h4v33h-4zM592 730h4v38h-4zM600 694h4v36h-4zM600 730h4v40h-4zM608 691h4v39h-4zM616 688h4v42h-4zM648 730h4v11h-4zM656 730h4v14h-4zM664 708h4v22h-4zM664 730h4v16h-4zM672 707h4v23h-4zM672 730h4v17h-4zM680 704h4v26h-4zM688 703h4v27h-4zM728 730h4v1h-4zM736 730h4v3h-4zM744 730h4v3h-4zM752 730h4v11h-4zM760 718h4v12h-4zM760 730h4v15h-4zM768 715h4v15h-4zM768 730h4v22h-4zM776 708h4v22h-4zM776 730h4v24h-4zM784 705h4v25h-4zM792 701h4v29h-4zM792 730h4v24h-4zM800 700h4v30h-4zM800 730h4v25h-4zM808 700h4v30h-4zM816 699h4v31h-4zM824 698h4v32h-4zM832 730h4v23h-4zM840 730h4v24h-4zM848 698h4v32h-4zM848 730h4v24h-4zM856 697h4v33h-4zM864 696h4v34h-4zM872 730h4v22h-4zM912 730h4v5h-4zM944 721h4v9h-4zM944 730h4v2h-4zM952 719h4v11h-4zM952 730h4v3h-4zM960 719h4v11h-4zM960 730h4v5h-4zM968 718h4v12h-4zM976 717h4v13h-4zM1000 730h4v1h-4zM1008 730h4v1h-4zM1024 730h4v1h-4zM1040 730h4v1h-4zM1056 730h4v1h-4zM1072 726h4v4h-4zM1072 730h4v3h-4zM1080 730h4v8h-4zM1088 730h4v11h-4zM1096 727h4v3h-4zM1104 724h4v6h-4zM1104 730h4v12h-4zM1112 722h4v8h-4zM1112 730h4v13h-4zM1120 720h4v10h-4zM1128 720h4v10h-4zM1136 719h4v11h-4z" fill="#008000"/>
<path d="M3 725h1v5h-1zM3 730h1v11h-1zM8 729h4v1h-4zM8 730h4v5h-4zM16 730h4v2h-4zM24 729h4v1h-4zM40 730h4v1h-4zM48 727h4v3h-4zM56 730h4v1h-4zM72 726h4v4h-4zM80 727h4v3h-4zM80 730h4v3h-4zM88 729h4v1h-4zM88 730h4v3h-4zM120 730h4v4h-4zM128 730h4v3h-4zM136 726h4v4h-4zM136 730h4v2h-4zM144 726h4v4h-4zM152 728h4v2h-4zM160 730h4v9h-4zM168 730h4v1h-4zM184 726h4v4h-4zM192 729h4v1h-4zM232 730h4v10h-4zM240 730h4v8h-4zM248 730h4v5h-4zM256 720h4v10h-4zM256 730h4v3h-4zM264 722h4v8h-4zM264 730h4v2h-4zM272 724h4v6h-4zM280 725h4v5h-4zM312 730h4v4h-4zM320 730h4v3h-4zM328 722h4v8h-4zM328 730h4v2h-4zM336 723h4v7h-4zM336 730h4v1h-4zM344 725h4v5h-4zM344 730h4v1h-4zM352 726h4v4h-4zM360 727h4v3h-4zM368 730h4v4h-4zM376 730h4v1h-4zM384 724h4v6h-4zM384 730h4v1h-4zM392 726h4v4h-4zM400 727h4v3h-4zM408 727h4v3h-4zM424 730h4v5h-4zM432 730h4v4h-4zM440 722h4v8h-4zM440 730h4v3h-4zM448 723h4v7h-4zM448 730h4v2h-4zM456 724h4v6h-4zM464 724h4v6h-4zM472 730h4v3h-4zM480 730h4v1h-4zM488 723h4v7h-4zM496 726h4v4h-4zM496 730h4v1h-4zM504 727h4v3h-4zM512 728h4v2h-4zM536 730h4v10h-4zM544 730h4v8h-4zM552 718h4v12h-4zM560 719h4v11h-4zM608 730h4v32h-4zM616 730h4v21h-4zM624 690h4v40h-4zM624 730h4v14h-4zM632 696h4v34h-4zM632 730h4v12h-4zM640 703h4v27h-4zM640 730h4v9h-4zM648 707h4v23h-4zM656 708h4v22h-4zM680 730h4v15h-4zM688 730h4v14h-4zM696 704h4v26h-4zM696 730h4v10h-4zM704 705h4v25h-4zM704 730h4v6h-4zM712 708h4v22h-4zM712 730h4v4h-4zM720 711h4v19h-4zM720 730h4v1h-4zM728 714h4v16h-4zM736 717h4v13h-4zM744 718h4v12h-4zM752 722h4v8h-4zM784 730h4v23h-4zM808 730h4v25h-4zM816 730h4v23h-4zM824 730h4v22h-4zM832 698h4v32h-4zM840 698h4v32h-4zM856 730h4v22h-4zM864 730h4v22h-4zM872 697h4v33h-4zM880 697h4v33h-4zM880 730h4v18h-4zM888 697h4v33h-4zM888 730h4v11h-4zM896 699h4v31h-4zM896 730h4v4h-4zM904 704h4v26h-4zM904 730h4v2h-4zM912 710h4v20h-4zM920 716h4v14h-4zM920 730h4v4h-4zM928 720h4v10h-4zM928 730h4v2h-4zM936 722h4v8h-4zM936 730h4v1h-4zM968 730h4v4h-4zM976 730h4v1h-4zM984 718h4v12h-4zM984 730h4v1h-4zM992 719h4v11h-4zM992 730h4v1h-4zM1000 721h4v9h-4zM1008 722h4v8h-4zM1016 722h4v8h-4zM1016 730h4v1h-4zM1024 723h4v7h-4zM1032 724h4v6h-4zM1032 730h4v1h-4zM1040 724h4v6h-4zM1048 725h4v5h-4zM1048 730h4v1h-4zM1056 725h4v5h-4zM1064 726h4v4h-4zM1064 730h4v1h-4zM1080 726h4v4h-4zM1088 728h4v2h-4zM1096 730h4v11h-4zM1120 730h4v11h-4zM1128 730h4v8h-4zM1144 721h4v9h-4z" fill="#ff0000"/>
<path d="M3 545.5H1230M3 628.5H1230M3 730.5H1230" stroke="#dedede" stroke-width="1" stroke-dasharray="3 3" stroke-dashoffset="1" fill="none"/>
<rect x="2.5" y="2.5" width="1225" height="471" fill="none" stroke="#000" stroke-width="1"/>
<rect x="2.5" y="475.5" width="1225" height="100" fill="none" stroke="#000" stroke-width="1"/>
<rect x="2.5" y="577.5" width="1225" height="100" fill="none" stroke="#000" stroke-width="1"/>
<rect x="2.5" y="679.5" width="1225" height="100" fill="none" stroke="#000" stroke-width="1"/>
<path d="M1228 20.5h4M1228 52.5h4M1228 84.5h4M1228 117.5h4M1228 149.5h4M1228 182.5h4M1228 214.5h4M1228 246.5h4M1228 279.5h4M1228 311.5h4M1228 343.5h4M1228 376.5h4M1228 408.5h4M1228 441.5h4M1228 476.5h4M1228 574.5h4M1228 578.5h4M1228 676.5h4M1228 680.5h4M1228 778.5h4" stroke="#000" stroke-width="1" fill="none"/>
<path d="M2.5 780v4M66.5 780v4M130.5 780v4M194.5 780v4M258.5 780v4M322.5 780v4M386.5 780v4M450.5 780v4M514.5 780v4M578.5 780v4M642.5 780v4M706.5 780v4M770.5 780v4M834.5 780v4M898.5 780v4M962.5 780v4M1026.5 780v4M1090.5 780v4" stroke="#000" stroke-width="1" fill="none"/>
<rect x="1230" y="112" width="39" height="11" fill="#cc0000"/>
<g style="will-change:transform" shape-rendering="geometricPrecision" font-family="'Liberation Sans', sans-serif" font-size="10px" fill="#000" stroke="#000" stroke-width="0.3">
<text x="1233" y="24.4" textLength="32.5" lengthAdjust="spacingAndGlyphs">1.32660</text>
<text x="1233" y="56.4" textLength="32.5" lengthAdjust="spacingAndGlyphs">1.32495</text>
<text x="1233" y="88.4" textLength="32.5" lengthAdjust="spacingAndGlyphs">1.32330</text>
<text x="1233" y="153.4" textLength="32.5" lengthAdjust="spacingAndGlyphs">1.32000</text>
<text x="1233" y="186.4" textLength="32.5" lengthAdjust="spacingAndGlyphs">1.31835</text>
<text x="1233" y="218.4" textLength="32.5" lengthAdjust="spacingAndGlyphs">1.31670</text>
<text x="1233" y="250.4" textLength="32.5" lengthAdjust="spacingAndGlyphs">1.31505</text>
<text x="1233" y="283.4" textLength="32.5" lengthAdjust="spacingAndGlyphs">1.31340</text>
<text x="1233" y="315.4" textLength="32.5" lengthAdjust="spacingAndGlyphs">1.31175</text>
<text x="1233" y="347.4" textLength="32.5" lengthAdjust="spacingAndGlyphs">1.31010</text>
<text x="1233" y="380.4" textLength="32.5" lengthAdjust="spacingAndGlyphs">1.30845</text>
<text x="1233" y="412.4" textLength="32.5" lengthAdjust="spacingAndGlyphs">1.30680</text>
<text x="1233" y="445.4" textLength="32.5" lengthAdjust="spacingAndGlyphs">1.30515</text>
<text x="1233" y="121.4" textLength="32.5" lengthAdjust="spacingAndGlyphs" fill="#fff" stroke="#fff">1.32162</text>
<text x="1232.7" y="484.1" textLength="37.8" lengthAdjust="spacingAndGlyphs">0.007998</text>
<text x="1232.7" y="548.1" textLength="37.8" lengthAdjust="spacingAndGlyphs">0.000000</text>
<text x="1232.7" y="573.1" textLength="40.8" lengthAdjust="spacingAndGlyphs">-0.003373</text>
<text x="1232.7" y="586.1" textLength="42.8" lengthAdjust="spacingAndGlyphs">0.0022509</text>
<text x="1232.7" y="631.1" textLength="42.8" lengthAdjust="spacingAndGlyphs">0.0000000</text>
<text x="1232.7" y="675.1" textLength="45.8" lengthAdjust="spacingAndGlyphs">-0.0021956</text>
<text x="1232.7" y="688.1" textLength="37.8" lengthAdjust="spacingAndGlyphs">0.003906</text>
<text x="1232.7" y="733.1" textLength="37.8" lengthAdjust="spacingAndGlyphs">0.000000</text>
<text x="1232.7" y="777.1" textLength="40.8" lengthAdjust="spacingAndGlyphs">-0.003802</text>
<text x="6" y="488" textLength="75" lengthAdjust="spacingAndGlyphs">AOcust -0.002110</text>
<text x="6" y="590" textLength="76" lengthAdjust="spacingAndGlyphs">ACcust 0.0000334</text>
<text x="6" y="692" textLength="126" lengthAdjust="spacingAndGlyphs">GatorCust 0.000692 -0.000672</text>
<text x="2" y="792" textLength="53.5" lengthAdjust="spacingAndGlyphs">20 Nov 2025</text>
<text x="66" y="792" textLength="56.5" lengthAdjust="spacingAndGlyphs">21 Nov 05:00</text>
<text x="130" y="792" textLength="56.5" lengthAdjust="spacingAndGlyphs">21 Nov 13:00</text>
<text x="194" y="792" textLength="56.5" lengthAdjust="spacingAndGlyphs">21 Nov 21:00</text>
<text x="258" y="792" textLength="56.5" lengthAdjust="spacingAndGlyphs">24 Nov 05:00</text>
<text x="322" y="792" textLength="56.5" lengthAdjust="spacingAndGlyphs">24 Nov 13:00</text>
<text x="386" y="792" textLength="56.5" lengthAdjust="spacingAndGlyphs">24 Nov 21:00</text>
<text x="450" y="792" textLength="56.5" lengthAdjust="spacingAndGlyphs">25 Nov 05:00</text>
<text x="514" y="792" textLength="56.5" lengthAdjust="spacingAndGlyphs">25 Nov 13:00</text>
<text x="578" y="792" textLength="56.5" lengthAdjust="spacingAndGlyphs">25 Nov 21:00</text>
<text x="642" y="792" textLength="56.5" lengthAdjust="spacingAndGlyphs">26 Nov 05:00</text>
<text x="706" y="792" textLength="56.5" lengthAdjust="spacingAndGlyphs">26 Nov 13:00</text>
<text x="770" y="792" textLength="56.5" lengthAdjust="spacingAndGlyphs">26 Nov 21:00</text>
<text x="834" y="792" textLength="56.5" lengthAdjust="spacingAndGlyphs">27 Nov 05:00</text>
<text x="898" y="792" textLength="56.5" lengthAdjust="spacingAndGlyphs">27 Nov 13:00</text>
<text x="962" y="792" textLength="56.5" lengthAdjust="spacingAndGlyphs">27 Nov 21:00</text>
<text x="1026" y="792" textLength="56.5" lengthAdjust="spacingAndGlyphs">28 Nov 05:00</text>
<text x="1090" y="792" textLength="56.5" lengthAdjust="spacingAndGlyphs">28 Nov 13:00</text>
</g>
</svg>
</body></html>
